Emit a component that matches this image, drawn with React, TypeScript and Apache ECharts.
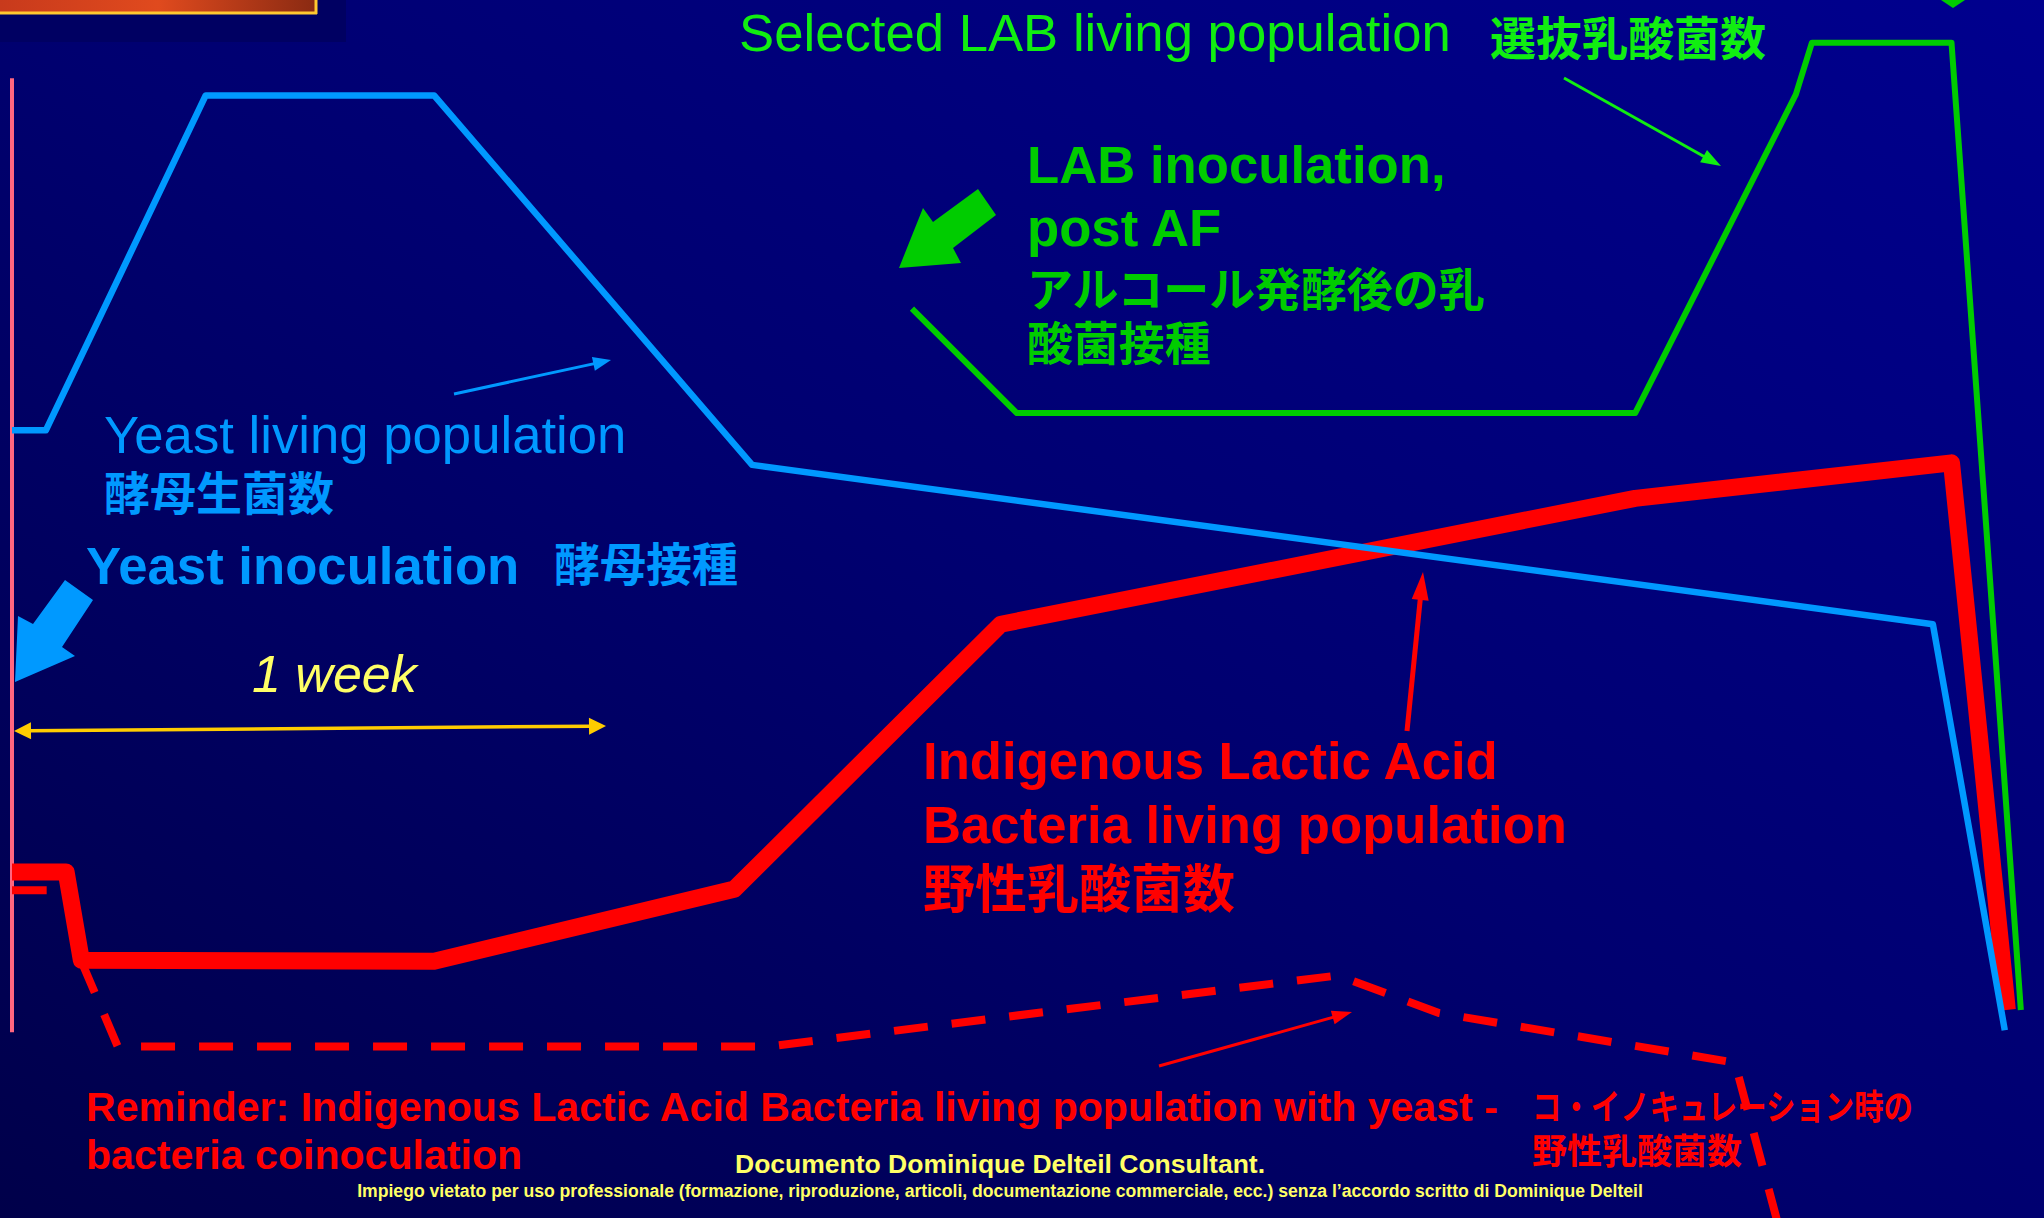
import React, { useEffect, useRef } from 'react';
import * as echarts from 'echarts';

const W = 2044;
const H = 1218;

// x: days after yeast inoculation, y: relative log10 living population
const yeastDay = [0, 0.4, 2.29, 4.99, 8.75, 22.71, 23.56];
const yeastLog = [7.76, 7.76, 11.06, 11.06, 7.42, 5.85, 1.85];

const indigenousDay = [0, 0.64, 0.82, 4.99, 8.54, 11.69, 19.19, 22.93, 23.59];
const indigenousLog = [3.41, 3.41, 2.54, 2.53, 3.24, 5.85, 7.09, 7.44, 2.05];

const indigenousTickDay = [0, 0.41];
const indigenousTickLog = [3.23, 3.23];

const coinocDay = [0.82, 1.25, 8.95, 15.68, 16.87, 20.37, 20.93];
const coinocLog = [2.53, 1.69, 1.69, 2.39, 2.02, 1.53, -0.22];

const selectedDay = [10.64, 11.88, 19.19, 21.09, 21.28, 22.93, 23.75];
const selectedLog = [8.96, 7.93, 7.93, 11.07, 11.58, 11.58, 2.05];

const inoculationDay = [0, 0];
const inoculationLog = [11.23, 1.83];

const zip = (xs: number[], ys: number[]) => xs.map((x, i) => [x, ys[i]]);

const LATIN = '"Liberation Sans", Arial, Helvetica, sans-serif';
const CJK = '"Noto Sans CJK JP", "Noto Sans CJK SC", sans-serif';

function arrowEls(x1: number, y1: number, x2: number, y2: number, color: string, lw: number, headL: number, headW: number, both = false) {
  const dx = x2 - x1, dy = y2 - y1;
  const len = Math.hypot(dx, dy);
  const ux = dx / len, uy = dy / len;
  const px = -uy, py = ux;
  const head = (tx: number, ty: number, dirx: number, diry: number) => {
    const bx = tx - dirx * headL, by = ty - diry * headL;
    return {
      type: 'polygon', z: 60, silent: true,
      shape: { points: [[tx, ty], [bx + px * headW / 2, by + py * headW / 2], [bx - px * headW / 2, by - py * headW / 2]] },
      style: { fill: color },
    };
  };
  const sx = both ? x1 + ux * (headL - 1) : x1;
  const sy = both ? y1 + uy * (headL - 1) : y1;
  const els: any[] = [
    { type: 'line', z: 60, silent: true, shape: { x1: sx, y1: sy, x2: x2 - ux * (headL - 1), y2: y2 - uy * (headL - 1) }, style: { stroke: color, lineWidth: lw } },
    head(x2, y2, ux, uy),
  ];
  if (both) els.push(head(x1, y1, -ux, -uy));
  return els;
}

function txt(text: string, x: number, y: number, font: string, fill: string, align = 'left', scaleX = 1, lineHeight?: number) {
  const style: any = { text, font, fill, textAlign: align, textVerticalAlign: 'middle' };
  if (lineHeight) style.lineHeight = lineHeight;
  return { type: 'text', x, y, scaleX, z: 70, silent: true, style };
}

export default function App() {
  const ref = useRef<HTMLDivElement>(null);
  useEffect(() => {
    if (!ref.current) return;
    const chart = echarts.init(ref.current, null, { renderer: 'svg', width: W, height: H });

    const bg = new echarts.graphic.LinearGradient(0, 1, 1, 0, [
      { offset: 0, color: '#00004a' },
      { offset: 0.5, color: '#000070' },
      { offset: 1, color: '#00008e' },
    ]);
    const thumb = new echarts.graphic.LinearGradient(0, 0, 1, 0, [
      { offset: 0, color: '#c83a1c' },
      { offset: 0.5, color: '#e04a1e' },
      { offset: 1, color: '#8a2a12' },
    ]);

    const graphics: any[] = [
      { type: 'rect', z: -10, silent: true, shape: { x: 0, y: 0, width: W, height: H }, style: { fill: bg } },
      { type: 'rect', z: -9, silent: true, shape: { x: 0, y: 0, width: 346, height: 42 }, style: { fill: '#000062' } },
      { type: 'rect', z: -8, silent: true, shape: { x: 0, y: 0, width: 316, height: 13 }, style: { fill: thumb } },
      { type: 'line', z: -7, silent: true, shape: { x1: 0, y1: 13, x2: 317, y2: 13 }, style: { stroke: '#ffc830', lineWidth: 3 } },
      { type: 'line', z: -7, silent: true, shape: { x1: 316, y1: 0, x2: 316, y2: 14 }, style: { stroke: '#ffc830', lineWidth: 3 } },
      // big block arrows
      { type: 'polygon', z: 60, silent: true, shape: { points: [[899, 268], [923, 208], [933, 222], [978, 189], [996, 215], [953, 248], [961, 263]] }, style: { fill: '#00cc00' } },
      { type: 'polygon', z: 60, silent: true, shape: { points: [[15, 682], [18, 616], [33, 624], [65, 580], [93, 600], [62, 647], [75, 656]] }, style: { fill: '#0099ff' } },
      // cut arrow tip at top right
      { type: 'polygon', z: 60, silent: true, shape: { points: [[1941, 0], [1965, 0], [1953, 8]] }, style: { fill: '#00cc00' } },
      ...arrowEls(454, 394, 611, 360, '#0099ff', 3, 18, 14),
      ...arrowEls(1564, 78, 1721, 166, '#11ee11', 3, 20, 14),
      ...arrowEls(1407, 731, 1423, 572, '#ff0000', 5, 28, 17),
      ...arrowEls(1159, 1066, 1352, 1012, '#ff0000', 3, 20, 14),
      ...arrowEls(14, 731, 606, 726, '#ffcc00', 3.5, 17, 17, true),
      // texts
      txt('Selected LAB living population', 739, 32, `52.7px ${LATIN}`, '#11ee11'),
      txt('選抜乳酸菌数', 1490, 35, `bold 46px ${CJK}`, '#11ee11'),
      txt('LAB inoculation,', 1027, 164, `bold 52.7px ${LATIN}`, '#00cc00'),
      txt('post AF', 1027, 227, `bold 52.7px ${LATIN}`, '#00cc00'),
      txt('アルコール発酵後の乳\n酸菌接種', 1027, 313, `bold 45.9px ${CJK}`, '#00cc00', 'left', 1, 54),
      txt('Yeast living population', 104, 434, `52.7px ${LATIN}`, '#0099ff'),
      txt('酵母生菌数', 104, 490, `bold 46px ${CJK}`, '#0099ff'),
      txt('Yeast inoculation', 86, 565, `bold 52.7px ${LATIN}`, '#0099ff'),
      txt('酵母接種', 554, 561, `bold 46px ${CJK}`, '#0099ff'),
      txt('1 week', 252, 674, `italic 52px ${LATIN}`, '#ffff66'),
      txt('Indigenous Lactic Acid', 923, 760, `bold 52.7px ${LATIN}`, '#ff0000'),
      txt('Bacteria living population', 923, 824, `bold 52.7px ${LATIN}`, '#ff0000'),
      txt('野性乳酸菌数', 923, 885, `bold 52px ${CJK}`, '#ff0000'),
      txt('Reminder: Indigenous Lactic Acid Bacteria living population with yeast -', 86, 1107, `bold 41.1px ${LATIN}`, '#ff0000'),
      txt('bacteria coinoculation', 86, 1155, `bold 41.1px ${LATIN}`, '#ff0000'),
      txt('コ・イノキュレーション時の', 1532, 1105, `bold 35px ${CJK}`, '#ff0000', 'left', 0.84),
      txt('野性乳酸菌数', 1532, 1148, `bold 35px ${CJK}`, '#ff0000'),
      txt('Documento Dominique Delteil Consultant.', 1000, 1164, `bold 26.5px ${LATIN}`, '#ffff66', 'center'),
      txt('Impiego vietato per uso professionale (formazione, riproduzione, articoli, documentazione commerciale, ecc.) senza l\u2019accordo scritto di Dominique Delteil', 1000, 1191, `bold 17.6px ${LATIN}`, '#ffff66', 'center'),
    ];

    const lineSeries = (name: string, data: number[][], color: string, width: number, extra: any = {}) => ({
      name, type: 'line', data, symbol: 'none', showSymbol: false, smooth: false, clip: false, silent: true,
      lineStyle: { color, width, cap: 'butt', join: 'round', ...extra },
      z: 10,
    });

    chart.setOption({
      animation: false,
      backgroundColor: '#000070',
      grid: { left: 12, right: 2, top: 0, bottom: 0 },
      xAxis: { type: 'value', min: 0, max: 24, show: false },
      yAxis: { type: 'value', min: 0, max: 12, show: false },
      graphic: { elements: graphics },
      series: [
        lineSeries('Yeast inoculation', zip(inoculationDay, inoculationLog), '#ff6680', 4),
        lineSeries('Indigenous LAB with coinoculation', zip(coinocDay, coinocLog), '#ff0000', 8, { type: [34, 24] }),
        lineSeries('Indigenous LAB', zip(indigenousDay, indigenousLog), '#ff0000', 17),
        lineSeries('Indigenous LAB mark', zip(indigenousTickDay, indigenousTickLog), '#ff0000', 8),
        lineSeries('Selected LAB', zip(selectedDay, selectedLog), '#00cc00', 6),
        lineSeries('Yeast', zip(yeastDay, yeastLog), '#0099ff', 6.5),
      ],
    });
    return () => chart.dispose();
  }, []);
  return <div ref={ref} style={{ position: 'fixed', left: 0, top: 0, width: W, height: H }} />;
}
